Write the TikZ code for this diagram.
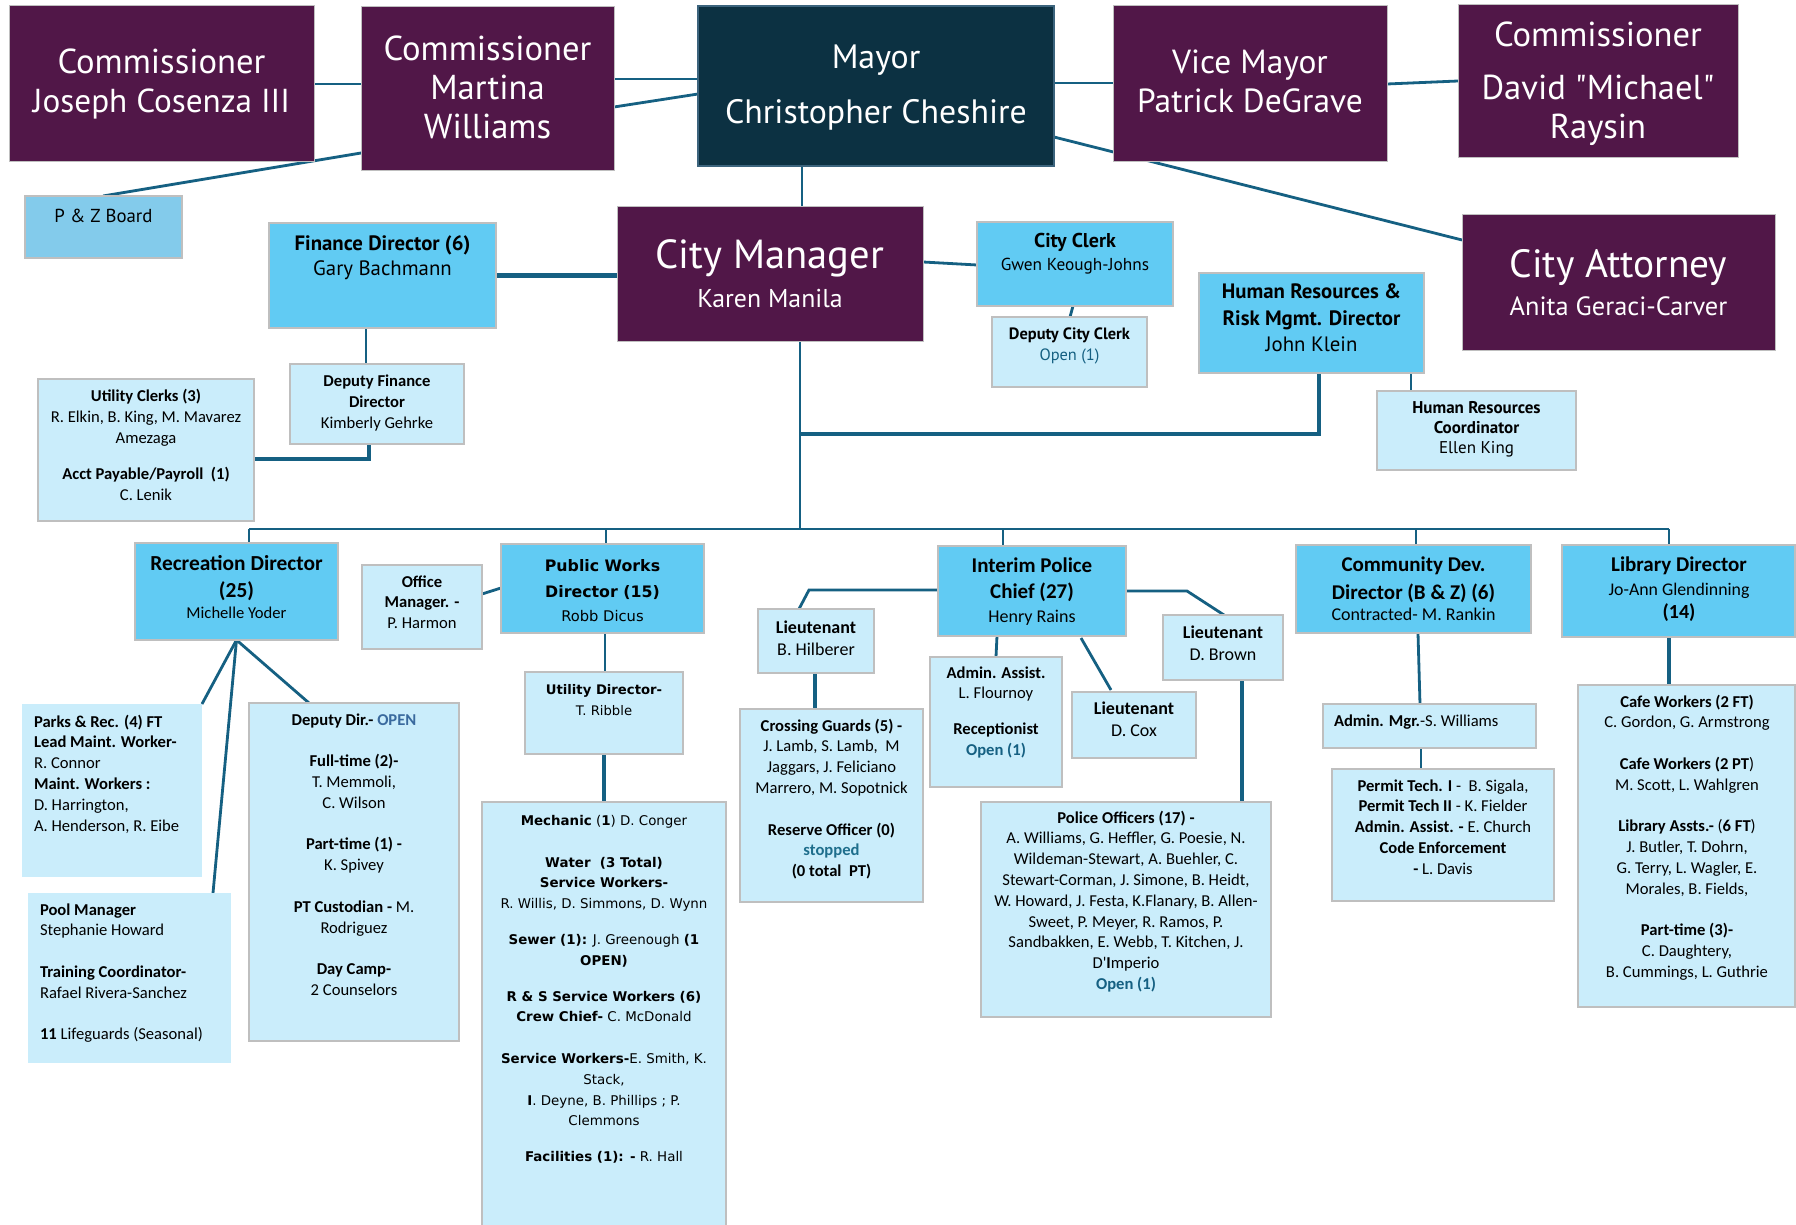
\documentclass[tikz,border=0pt]{standalone}
\usepackage{fontspec}
\setmainfont{Carlito}
\newfontfamily\pts{PT Sans}
\newfontfamily\dvs{DejaVu Sans}
\usetikzlibrary{calc,fit}
\definecolor{purp}{RGB}{81,23,72}
\definecolor{mayc}{RGB}{12,49,66}
\definecolor{mayb}{RGB}{60,100,125}
\definecolor{midb}{HTML}{61CBF3}
\definecolor{lgtb}{HTML}{CAEDFB}
\definecolor{pzb}{RGB}{131,203,235}
\definecolor{lnc}{HTML}{156082}
\definecolor{opn}{HTML}{156082}
\definecolor{stp}{RGB}{30,110,140}
\definecolor{opnb}{RGB}{58,106,158}
\definecolor{bord}{RGB}{191,191,191}
\newcommand\fz[2]{\fontsize{#1}{#2}\selectfont}
\newcommand\st{\rule{0pt}{1em}}
\pgfdeclarelayer{paper}\pgfdeclarelayer{bg}\pgfsetlayers{paper,bg,main}
\begin{document}
\begin{tikzpicture}[x=0.5pt,y=-0.5pt,
  pbox/.style={fill=purp,draw=bord,line width=0.5pt,inner sep=0pt,outer sep=0pt},
  mbox/.style={fill=mayc,draw=mayb,line width=0.9pt,inner sep=0pt,outer sep=0pt},
  bbox/.style={fill=midb,draw=bord,line width=0.8pt,inner sep=0pt,outer sep=0pt},
  lbox/.style={fill=lgtb,draw=bord,line width=0.8pt,inner sep=0pt,outer sep=0pt},
  nbox/.style={fill=lgtb,draw=none,inner sep=0pt,outer sep=0pt},
  zbox/.style={fill=pzb,draw=bord,line width=0.8pt,inner sep=0pt,outer sep=0pt},
  tx/.style={inner sep=0pt,outer sep=0pt,align=center,anchor=north},
  txl/.style={tx,align=left,anchor=north west},
  wt/.style={text=white},
  cn/.style={draw=lnc,line width=1.4pt},
  cnt/.style={draw=lnc,line width=2.3pt}]
\useasboundingbox (0,0) rectangle (1796,1225);
\begin{pgfonlayer}{paper}
\fill[white] (0,0) rectangle (1796,1225);
\end{pgfonlayer}
% ---------- boxes ----------
\node[pbox,fit={(9,6) (314,162)}] (jos) {};
\node[pbox,fit={(361,7) (614,171)}] (mar) {};
\node[mbox,fit={(698,6) (1054,166)}] (may) {};
\node[pbox,fit={(1113,6) (1387,162)}] (vm) {};
\node[pbox,fit={(1458,5) (1738,158)}] (dav) {};
\node[pbox,fit={(1462,215) (1775,351)}] (att) {};
\node[pbox,fit={(617,207) (923,342)}] (cm) {};
\node[zbox,fit={(25,196) (182,258)}] (pz) {};
\node[bbox,fit={(269,223) (496,328)}] (fin) {};
\node[lbox,fit={(290,364) (464,444)}] (dfin) {};
\node[lbox,fit={(38,379) (254,521)}] (uc) {};
\node[bbox,fit={(977,222) (1173,306)}] (cc) {};
\node[lbox,fit={(992,317) (1147,387)}] (dcc) {};
\node[bbox,fit={(1199,273) (1424,373)}] (hr) {};
\node[lbox,fit={(1377,391) (1576,470)}] (hrc) {};
\node[bbox,fit={(135,543) (338,640)}] (rec) {};
\node[lbox,fit={(362,565) (482,649)}] (om) {};
\node[bbox,fit={(501,544) (704,633)}] (pw) {};
\node[lbox,fit={(758,609) (874,673)}] (lth) {};
\node[bbox,fit={(938,546) (1126,636)}] (pc) {};
\node[lbox,fit={(1163,615) (1283,680)}] (ltb) {};
\node[bbox,fit={(1296,545) (1531,633)}] (cd) {};
\node[bbox,fit={(1562,545) (1795,637)}] (lib) {};
\node[nbox,fit={(22,704) (202,877)}] (parks) {};
\node[nbox,fit={(28,893) (231,1063)}] (pool) {};
\node[lbox,fit={(249,703) (459,1041)}] (dd) {};
\node[lbox,fit={(525,672) (683,754)}] (ud) {};
\node[lbox,fit={(482,802) (726,1232)}] (pwb) {};
\node[lbox,fit={(740,709) (923,902)}] (cg) {};
\node[lbox,fit={(930,657) (1062,787)}] (aa) {};
\node[lbox,fit={(1072,692) (1196,758)}] (cox) {};
\node[lbox,fit={(981,802) (1271,1017)}] (po) {};
\node[lbox,fit={(1323,704) (1536,748)}] (am) {};
\node[lbox,fit={(1332,769) (1554,901)}] (pt) {};
\node[lbox,fit={(1578,685) (1795,1007)}] (ls) {};
\coordinate (busL) at (249,529);
\coordinate (busM) at (800,529);
\coordinate (busR) at (1669,529);
% ---------- texts: top ----------
\node[tx,wt,font=\pts\fz{16.6pt}{19.5pt}] (jos-t) at (161.5,40) {\st{\fz{17.3pt}{19.5pt}Commissioner}\\Joseph Cosenza III};
\node[tx,wt,font=\pts\fz{17.3pt}{19.5pt}] (mar-t) at (487.5,26) {\st Commissioner\\Martina\\Williams};
\node[tx,wt,font=\pts\fz{16.9pt}{27.5pt}] (may-t) at (876,35) {\st Mayor\\Christopher Cheshire};
\node[tx,wt,font=\pts\fz{16.7pt}{19.5pt}] (vm-t) at (1250,40) {\st Vice Mayor\\Patrick DeGrave};
\node[tx,wt,font=\pts\fz{17.3pt}{19.5pt}] (dav-t) at (1598,12) {\st Commissioner\\[7pt]David "Michael"\\Raysin};
\node[tx,wt,font=\pts\fz{20.3pt}{24pt}] (cm-t) at (770,228) {\st City Manager};
\node[tx,wt,font=\pts\fz{12.9pt}{15pt}] (cm-n) at (770,282) {\st Karen Manila};
\node[tx,wt,font=\pts\fz{19.7pt}{24pt}] (att-t) at (1618.5,238.5) {\st City Attorney};
\node[tx,wt,font=\pts\fz{13.2pt}{15pt}] (att-n) at (1618.5,289.5) {\st Anita Geraci-Carver};
\node[tx,font=\pts\fz{9.4pt}{11pt}] (pz-t) at (103.5,204) {\st P \& Z Board};
\node[tx,font=\pts\fz{10.4pt}{12.75pt}] (fin-t) at (382.5,229.5) {\st\textbf{Finance Director (6)}\\Gary Bachmann};
\node[tx,font=\pts\fz{8.65pt}{11.5pt}] (cc-t) at (1075,230.7) {\st{\fz{10pt}{11.5pt}\textbf{City Clerk}}\\Gwen Keough-Johns};
\node[tx,font=\pts\fz{8.2pt}{10.5pt}] (dcc-t) at (1069.5,323.6) {\st\textbf{Deputy City Clerk}\\\textcolor{opn}{Open (1)}};
\node[tx,font=\pts\fz{10.4pt}{13.25pt}] (hr-t) at (1311.5,278.2) {\st\textbf{Human Resources \&}\\\textbf{Risk Mgmt. Director}\\John Klein};
\node[tx,font=\pts\fz{8.5pt}{10.25pt}] (hrc-t) at (1476.5,396) {\st\textbf{Human Resources}\\\textbf{Coordinator}\\Ellen King};
% ---------- texts: finance ----------
\node[tx,font=\fz{8.3pt}{10.4pt}] (dfin-t) at (377,370.4) {\st\textbf{Deputy Finance}\\\textbf{Director}\\Kimberly Gehrke};
\node[tx,font=\fz{8.3pt}{10.4pt}] (uc-t) at (146,385.4) {\st\textbf{Utility Clerks (3)}\\R. Elkin, B. King, M. Mavarez\\Amezaga\\[7.5pt]\textbf{Acct Payable/Payroll~ (1)}\\C. Lenik};
% ---------- texts: row 2 ----------
\node[tx,font=\fz{10.7pt}{13.5pt}\bfseries] (rec-t) at (236.5,548.6) {\st Recreation Director\\(25)};
\node[tx,font=\fz{8.3pt}{10.4pt}] (rec-n) at (236.5,601.4) {\st Michelle Yoder};
\node[tx,font=\fz{8.3pt}{10.4pt}] (om-t) at (422,570.4) {\st\textbf{Office}\\\textbf{Manager. -}\\P. Harmon};
\node[tx,font=\dvs\fz{7.9pt}{13pt}\bfseries] (pw-t) at (602.5,555.2) {\st Public Works\\Director (15)};
\node[tx,font=\dvs\fz{7.35pt}{10pt}] (pw-n) at (602.5,606.3) {\st Robb Dicus};
\node[tx,font=\fz{9pt}{11pt}] (lth-t) at (816,615) {\st\textbf{Lieutenant}\\B. Hilberer};
\node[tx,font=\fz{10.5pt}{13pt}\bfseries] (pc-t) at (1032,551) {\st Interim Police\\Chief (27)};
\node[tx,font=\fz{9pt}{11pt}] (pc-n) at (1032,604) {\st Henry Rains};
\node[tx,font=\fz{9pt}{11pt}] (ltb-t) at (1223,620) {\st\textbf{Lieutenant}\\D. Brown};
\node[tx,font=\fz{10.5pt}{13.5pt}\bfseries] (cd-t) at (1413.5,551) {\st Community Dev.\\Director (B \& Z) (6)};
\node[tx,font=\fz{9pt}{11pt}] (cd-n) at (1413.5,602) {\st Contracted- M. Rankin};
\node[tx,font=\fz{10.5pt}{13pt}\bfseries] (lib-t) at (1679,551) {\st Library Director};
\node[tx,font=\fz{8.9pt}{11.5pt}] (lib-n) at (1679,578) {\st Jo-Ann Glendinning\\{\fz{10pt}{11.5pt}\textbf{(14)}}};
% ---------- texts: row 3 ----------
\node[txl,font=\fz{8.3pt}{10.4pt}] (parks-t) at (34,710.4) {\st\textbf{Parks \& Rec. (4) FT}\\\textbf{Lead Maint. Worker-}\\R. Connor\\\textbf{Maint. Workers :}\\D. Harrington,\\A. Henderson, R. Eibe};
\node[txl,font=\fz{8.3pt}{10.4pt}] (pool-t) at (40,898.4) {\st\textbf{Pool Manager}\\Stephanie Howard\\[10.4pt]\textbf{Training Coordinator-}\\Rafael Rivera-Sanchez\\[10.4pt]\textbf{11} Lifeguards (Seasonal)};
\node[tx,font=\fz{8.3pt}{10.4pt}] (dd-t) at (354,708.4) {\st\textbf{Deputy Dir.-} \textcolor{opnb}{\textbf{OPEN}}\\[10.4pt]\textbf{Full-time (2)-}\\T. Memmoli,\\C. Wilson\\[10.4pt]\textbf{Part-time (1) -}\\K. Spivey\\[10.4pt]\textbf{PT Custodian -} M.\\Rodriguez\\[10.4pt]\textbf{Day Camp-}\\2 Counselors};
\node[tx,font=\dvs\fz{6.6pt}{10.5pt}] (ud-t) at (604,681) {\st\textbf{Utility Director-}\\T. Ribble};
\node[tx,font=\dvs\fz{6.7pt}{10.4pt}] (pwb-t) at (604,812) {\st\textbf{Mechanic} (\textbf{1}) D. Conger\\[10.4pt]\textbf{Water~ (3 Total)}\\\textbf{Service Workers-}\\R. Willis, D. Simmons, D. Wynn\\[7.5pt]\textbf{Sewer (1):} J. Greenough \textbf{(1}\\\textbf{OPEN)}\\[7.5pt]\textbf{R \& S Service Workers (6)}\\\textbf{Crew Chief-} C. McDonald\\[10.4pt]\textbf{Service Workers-}E. Smith, K.\\Stack,\\\textbf{I}. Deyne, B. Phillips ; P.\\Clemmons\\[7.5pt]\textbf{Facilities (1): -} R. Hall};
\node[tx,font=\fz{8.3pt}{10.4pt}] (cg-t) at (831.5,714.4) {\st\textbf{Crossing Guards (5) -}\\ J. Lamb, S. Lamb,~ M\\Jaggars, J. Feliciano\\Marrero, M. Sopotnick\\[10.4pt]\textbf{Reserve Officer (0)}\\\textcolor{stp}{\textbf{stopped}}\\\textbf{(0 total~ PT)}};
\node[tx,font=\fz{8.3pt}{10.4pt}] (aa-t) at (996,661.4) {\st\textbf{Admin. Assist.}\\L. Flournoy\\[7.5pt]\textbf{Receptionist}\\\textcolor{opn}{\textbf{Open (1)}}};
\node[tx,font=\fz{9pt}{11pt}] (cox-t) at (1134,696) {\st\textbf{Lieutenant}\\D. Cox};
\node[tx,font=\fz{8.3pt}{10.4pt}] (po-t) at (1126,806.4) {\st\textbf{Police Officers (17) -}\\A. Williams, G. Heffler, G. Poesie, N.\\Wildeman-Stewart, A. Buehler, C.\\Stewart-Corman, J. Simone, B. Heidt,\\W. Howard, J. Festa, K.Flanary, B. Allen-\\Sweet, P. Meyer, R. Ramos, P.\\Sandbakken, E. Webb, T. Kitchen, J.\\D\textquotesingle\textbf{I}mperio\\\textcolor{opn}{\textbf{Open (1)}}};
\node[txl,font=\fz{8.3pt}{10.4pt}] (am-t) at (1334,709.4) {\st\textbf{Admin. Mgr.}-S. Williams};
\node[tx,font=\fz{8.3pt}{10.4pt}] (pt-t) at (1443,774.4) {\st\textbf{Permit Tech. I} -~ B. Sigala,\\\textbf{Permit Tech II} - K. Fielder\\\textbf{Admin. Assist. -} E. Church\\\textbf{Code Enforcement}\\\textbf{-} L. Davis};
\node[tx,font=\fz{8.3pt}{10.4pt}] (ls-t) at (1687,690.4) {\st\textbf{Cafe Workers (2 FT)}\\C. Gordon, G. Armstrong\\[10.4pt]\textbf{Cafe Workers (2 PT})\\M. Scott, L. Wahlgren\\[10.4pt]\textbf{Library Assts.-} (\textbf{6 FT})\\J. Butler, T. Dohrn,\\G. Terry, L. Wagler, E.\\Morales, B. Fields,\\[10.4pt]\textbf{Part-time (3)-}\\C. Daughtery,\\B. Cummings, L. Guthrie};
% ---------- connectors ----------
\begin{pgfonlayer}{bg}
\draw[cn] (jos.east) -- (jos.east -| mar.west);
\draw[cn] ($(mar.north east)+(0,72)$) -- ($(may.north west)+(0,73)$);
\draw[cn] ($(mar.north east)+(0,100)$) -- ($(may.north west)+(0,88)$);
\draw[cn] ($(may.north east)+(0,77)$) -- ($(vm.north west)+(0,77)$);
\draw[cn] ($(vm.north east)+(0,78)$) -- ($(dav.north west)+(0,76)$);
\draw[cn] ($(may.north east)+(0,131)$) -- ($(att.north west)+(0,25)$);
\draw[cn] ($(mar.north west)+(0,146)$) -- ($(pz.north west)+(78,0)$);
\draw[cn] ($(may.south west)+(104,0)$) -- ($(cm.north west)+(185,0)$);
\draw[cnt] (fin.east) -- (fin.east -| cm.west);
\draw[cn] ($(cm.north east)+(0,55)$) -- ($(cc.north west)+(0,43)$);
\draw[cn] ($(cc.south west)+(96,0)$) -- ($(dcc.north west)+(78,0)$);
\draw[cn] ($(fin.south west)+(97,0)$) -- ($(dfin.north west)+(76,0)$);
\draw[cnt] ($(dfin.south west)+(79,0)$) |- ($(uc.north east)+(0,80)$);
\draw[cn] ($(cm.south west)+(183,0)$) -- (busM);
\draw[cnt] ($(hr.south west)+(120,0)$) |- ($(cm.south west)+(183,92)$);
\draw[cn] ($(hr.south west)+(212,0)$) -- ($(hrc.north west)+(34,0)$);
\draw[cn] (busL) -- (busR);
\draw[cn] (busL) -- (busL |- rec.north);
\draw[cn] ($(pw.north west)+(105,0)$) -- ++(0,-15);
\draw[cn] ($(pc.north west)+(65,0)$) -- ++(0,-17);
\draw[cn] ($(cd.north west)+(120,0)$) -- ++(0,-16);
\draw[cn] (busR) -- (busR |- lib.north);
\draw[cn] (rec.south) -- (parks.north east);
\draw[cn] (rec.south) -- ($(pool.north west)+(185,0)$);
\draw[cn] (rec.south) -- ($(dd.north west)+(60,0)$);
\draw[cn] ($(om.north east)+(0,29)$) -- ($(pw.north west)+(0,44)$);
\draw[cn] ($(pw.south west)+(104,0)$) -- ($(ud.north west)+(80,0)$);
\draw[cnt] ($(ud.south west)+(79,0)$) -- ($(pwb.north west)+(122,0)$);
\draw[cn] ($(pc.north west)+(0,44)$) -- ($(lth.north west)+(51,-19)$) -- ($(lth.north west)+(41,0)$);
\draw[cn] ($(pc.north east)+(0,45)$) -- ($(ltb.north west)+(24,-24)$) -- ($(ltb.north west)+(61,0)$);
\draw[cn] ($(pc.south west)+(59,0)$) -- ($(aa.north west)+(66,0)$);
\draw[cn] ($(pc.south west)+(143,2)$) -- ($(cox.north west)+(39,-2)$);
\draw[cnt] ($(lth.south west)+(57,0)$) -- ($(cg.north west)+(75,0)$);
\draw[cnt] ($(ltb.south west)+(79,0)$) -- ($(po.north west)+(261,0)$);
\draw[cn] ($(cd.south west)+(122,0)$) -- ($(am.north west)+(97,0)$);
\draw[cn] ($(am.south west)+(98,0)$) -- ($(pt.north west)+(89,0)$);
\draw[cnt] ($(lib.south west)+(107,0)$) -- ($(ls.north west)+(91,0)$);
\end{pgfonlayer}
\end{tikzpicture}
\end{document}
